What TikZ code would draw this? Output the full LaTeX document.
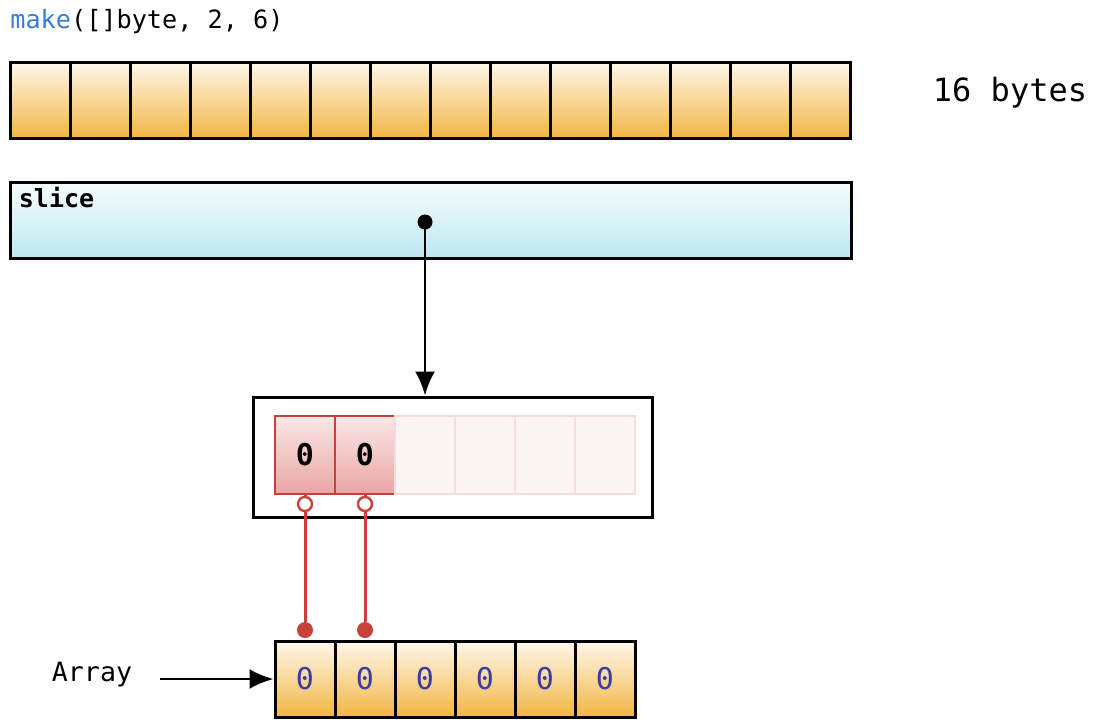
\documentclass[tikz,border=0pt]{standalone}
\usepackage{fontspec}
\setmonofont{DejaVu Sans Mono}
\usetikzlibrary{arrows.meta}

\definecolor{byteTop}{HTML}{FEF8EC}
\definecolor{byteBot}{HTML}{F2B543}
\definecolor{sliceTop}{HTML}{F7FCFD}
\definecolor{sliceBot}{HTML}{BDE8F1}
\definecolor{elemRed}{HTML}{C8413B}
\definecolor{elemTop}{HTML}{FAE6E6}
\definecolor{elemBot}{HTML}{E9A7A5}
\definecolor{spareLine}{HTML}{F6DCDC}
\definecolor{spareFill}{HTML}{FDF4F4}
\definecolor{zeroBlue}{HTML}{3B3BA8}
\definecolor{makeBlue}{HTML}{3A7BD5}

\tikzset{
  txt/.style={font=\ttfamily\fontsize{#1}{#1}\selectfont, inner sep=0pt},
  boldtxt/.style={font=\ttfamily\bfseries\fontsize{#1}{#1}\selectfont, inner sep=0pt},
  byte/.style={draw, line width=1.5pt, minimum width=30pt, minimum height=38pt,
    inner sep=0pt, top color=byteTop, bottom color=byteBot},
  slot/.style={byte, txt=15pt, text=zeroBlue},
  slicebox/.style={draw, line width=1.5pt, minimum width=420.5pt, minimum height=38pt,
    inner sep=0pt, top color=sliceTop, bottom color=sliceBot},
  backing/.style={draw, line width=1.5pt, minimum width=199.5pt, minimum height=60pt,
    inner sep=0pt, fill=white},
  elem/.style={draw=elemRed, line width=1.2pt, minimum width=30pt, minimum height=39pt,
    inner sep=0pt, top color=elemTop, bottom color=elemBot, boldtxt=15pt},
  spare/.style={draw=spareLine, line width=1pt, minimum width=30pt, minimum height=39pt,
    inner sep=0pt, fill=spareFill},
  opendot/.style={circle, draw=elemRed, line width=1.2pt, fill=white, minimum size=7pt, inner sep=0pt},
  fulldot/.style={circle, fill=elemRed, minimum size=8pt, inner sep=0pt},
  ptrdot/.style={circle, fill=black, minimum size=7.5pt, inner sep=0pt},
  redline/.style={draw=elemRed, line width=1.5pt},
  ptrline/.style={line width=1.4pt, -{Latex[length=12pt, width=10pt]}}
}

\begin{document}
\begin{tikzpicture}[x=0.5pt, y=-0.5pt]
  \useasboundingbox (0,0) rectangle (1096,719);

  % the call and its 16 bytes
  \node[txt=12.6pt, anchor=west] (call) at (10,22) {\textcolor{makeBlue}{make}([]byte, 2, 6)};
  \node[txt=16pt] (size) at (1010,93) {16 bytes};

  \node[byte] (b1) at (40,100) {};
  \node[byte] (b2) at (100,100) {};
  \node[byte] (b3) at (160,100) {};
  \node[byte] (b4) at (220,100) {};
  \node[byte] (b5) at (280,100) {};
  \node[byte] (b6) at (340,100) {};
  \node[byte] (b7) at (400,100) {};
  \node[byte] (b8) at (460,100) {};
  \node[byte] (b9) at (520,100) {};
  \node[byte] (b10) at (580,100) {};
  \node[byte] (b11) at (640,100) {};
  \node[byte] (b12) at (700,100) {};
  \node[byte] (b13) at (760,100) {};
  \node[byte] (b14) at (820.5,100) {};

  % slice header
  \node[slicebox] (slice) at (430.5,220) {};
  \node[boldtxt=12.5pt, anchor=north west] (slicename) at ([xshift=5pt, yshift=-3pt]slice.north west) {slice};
  \node[ptrdot] (ptr) at (425,222) {};

  % backing store seen by the slice
  \node[backing] (store) at (452.5,457) {};
  \draw[ptrline] (ptr.center) -- (ptr.center |- store.north);

  \node[elem] (e1) at (305,455) {0};
  \node[elem] (e2) at (365,455) {0};
  \node[spare] (s3) at (425,455) {};
  \node[spare] (s4) at (485,455) {};
  \node[spare] (s5) at (545,455) {};
  \node[spare] (s6) at (605,455) {};

  \node[opendot] (o1) at (305,504) {};
  \node[opendot] (o2) at (365,504) {};
  \node[fulldot] (f1) at (305,630) {};
  \node[fulldot] (f2) at (365,630) {};
  \draw[redline] (e1.south) -- (o1.north);
  \draw[redline] (e2.south) -- (o2.north);
  \draw[redline] (o1.south) -- (f1);
  \draw[redline] (o2.south) -- (f2);

  % the array
  \node[slot] (a1) at (305,679) {0};
  \node[slot] (a2) at (365,679) {0};
  \node[slot] (a3) at (425,679) {0};
  \node[slot] (a4) at (485,679) {0};
  \node[slot] (a5) at (545,679) {0};
  \node[slot] (a6) at (605,679) {0};

  \node[txt=13.3pt] (arrayname) at (92,675) {Array};
  \coordinate (arraytail) at (160,679);
  \draw[ptrline] (arraytail) -- (a1.west);
\end{tikzpicture}
\end{document}
